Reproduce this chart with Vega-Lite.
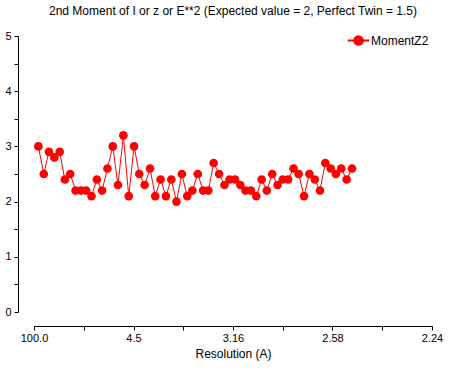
{
  "$schema": "https://vega.github.io/schema/vega-lite/v6.json",
  "width": 398,
  "height": 276,
  "autosize": {"type": "none"},
  "padding": {"left": 34, "top": 36, "right": 33, "bottom": 62},
  "background": "white",
  "title": {"text": "2nd Moment of I or z or E**2 (Expected value = 2, Perfect Twin = 1.5)", "font": "Liberation Sans", "fontSize": 12, "fontWeight": "normal", "color": "black", "offset": 12},
  "config": {
    "view": {"stroke": null},
    "axis": {"labelFont": "Liberation Sans", "labelFontSize": 11, "titleFont": "Liberation Sans", "titleFontSize": 12, "titleFontWeight": "normal", "labelColor": "black", "titleColor": "black", "domainColor": "black", "tickColor": "black", "grid": false}
  },
  "data": {"values": [
    {"s": 0.0022, "m": 3.0}, {"s": 0.0049, "m": 2.5}, {"s": 0.0075, "m": 2.9}, {"s": 0.0102, "m": 2.8}, {"s": 0.0129, "m": 2.9},
    {"s": 0.0155, "m": 2.4}, {"s": 0.0182, "m": 2.5}, {"s": 0.0209, "m": 2.2}, {"s": 0.0236, "m": 2.2}, {"s": 0.0262, "m": 2.2},
    {"s": 0.0289, "m": 2.1}, {"s": 0.0316, "m": 2.4}, {"s": 0.0342, "m": 2.2}, {"s": 0.0369, "m": 2.6}, {"s": 0.0396, "m": 3.0},
    {"s": 0.0422, "m": 2.3}, {"s": 0.0449, "m": 3.2}, {"s": 0.0476, "m": 2.1}, {"s": 0.0503, "m": 3.0}, {"s": 0.0529, "m": 2.5},
    {"s": 0.0556, "m": 2.3}, {"s": 0.0583, "m": 2.6}, {"s": 0.0609, "m": 2.1}, {"s": 0.0636, "m": 2.4}, {"s": 0.0663, "m": 2.1},
    {"s": 0.0690, "m": 2.4}, {"s": 0.0716, "m": 2.0}, {"s": 0.0743, "m": 2.5}, {"s": 0.0770, "m": 2.1}, {"s": 0.0796, "m": 2.2},
    {"s": 0.0823, "m": 2.5}, {"s": 0.0850, "m": 2.2}, {"s": 0.0876, "m": 2.2}, {"s": 0.0903, "m": 2.7}, {"s": 0.0930, "m": 2.5},
    {"s": 0.0957, "m": 2.3}, {"s": 0.0983, "m": 2.4}, {"s": 0.1010, "m": 2.4}, {"s": 0.1037, "m": 2.3}, {"s": 0.1063, "m": 2.2},
    {"s": 0.1090, "m": 2.2}, {"s": 0.1117, "m": 2.1}, {"s": 0.1144, "m": 2.4}, {"s": 0.1170, "m": 2.2}, {"s": 0.1197, "m": 2.5},
    {"s": 0.1224, "m": 2.3}, {"s": 0.1250, "m": 2.4}, {"s": 0.1277, "m": 2.4}, {"s": 0.1304, "m": 2.6}, {"s": 0.1330, "m": 2.5},
    {"s": 0.1357, "m": 2.1}, {"s": 0.1384, "m": 2.5}, {"s": 0.1411, "m": 2.4}, {"s": 0.1437, "m": 2.2}, {"s": 0.1464, "m": 2.7},
    {"s": 0.1491, "m": 2.6}, {"s": 0.1517, "m": 2.5}, {"s": 0.1544, "m": 2.6}, {"s": 0.1571, "m": 2.4}, {"s": 0.1598, "m": 2.6}
  ]},
  "mark": {"type": "line", "strokeWidth": 1, "point": {"filled": true, "size": 75, "opacity": 1}},
  "encoding": {
    "x": {"field": "s", "type": "quantitative", "scale": {"domain": [0, 0.2], "nice": false, "zero": false},
      "axis": {"offset": 14, "values": [0, 0.025, 0.05, 0.075, 0.1, 0.125, 0.15, 0.175, 0.2], "tickSize": 4, "labelPadding": 2, "labelFlush": false, "labelOverlap": false, "title": "Resolution (A)", "titlePadding": 5,
        "labelExpr": "abs(datum.value) < 0.001 ? '100.0' : abs(datum.value - 0.05) < 0.001 ? '4.5' : abs(datum.value - 0.1) < 0.001 ? '3.16' : abs(datum.value - 0.15) < 0.001 ? '2.58' : abs(datum.value - 0.2) < 0.001 ? '2.24' : ''"}},
    "y": {"field": "m", "type": "quantitative", "scale": {"domain": [0, 5], "nice": false},
      "axis": {"offset": 16, "values": [0, 0.5, 1, 1.5, 2, 2.5, 3, 3.5, 4, 4.5, 5], "tickSize": 4, "labelPadding": 3, "labelFlush": false, "labelOverlap": false, "title": null,
        "labelExpr": "datum.value % 1 == 0 ? format(datum.value, 'd') : ''"}},
    "color": {"datum": "MomentZ2", "scale": {"range": ["#ff0000"]},
      "legend": {"title": null, "orient": "none", "legendX": 316, "legendY": -4, "symbolType": "M-1.5,0H1.5M-0.6,0A0.6,0.6,0,1,1,0.6,0A0.6,0.6,0,1,1,-0.6,0Z", "symbolSize": 210, "symbolFillColor": "#ff0000", "symbolStrokeColor": "#ff0000", "symbolStrokeWidth": 2, "labelFont": "Liberation Sans", "labelFontSize": 12, "labelColor": "black", "labelOffset": 4}}
  }
}
